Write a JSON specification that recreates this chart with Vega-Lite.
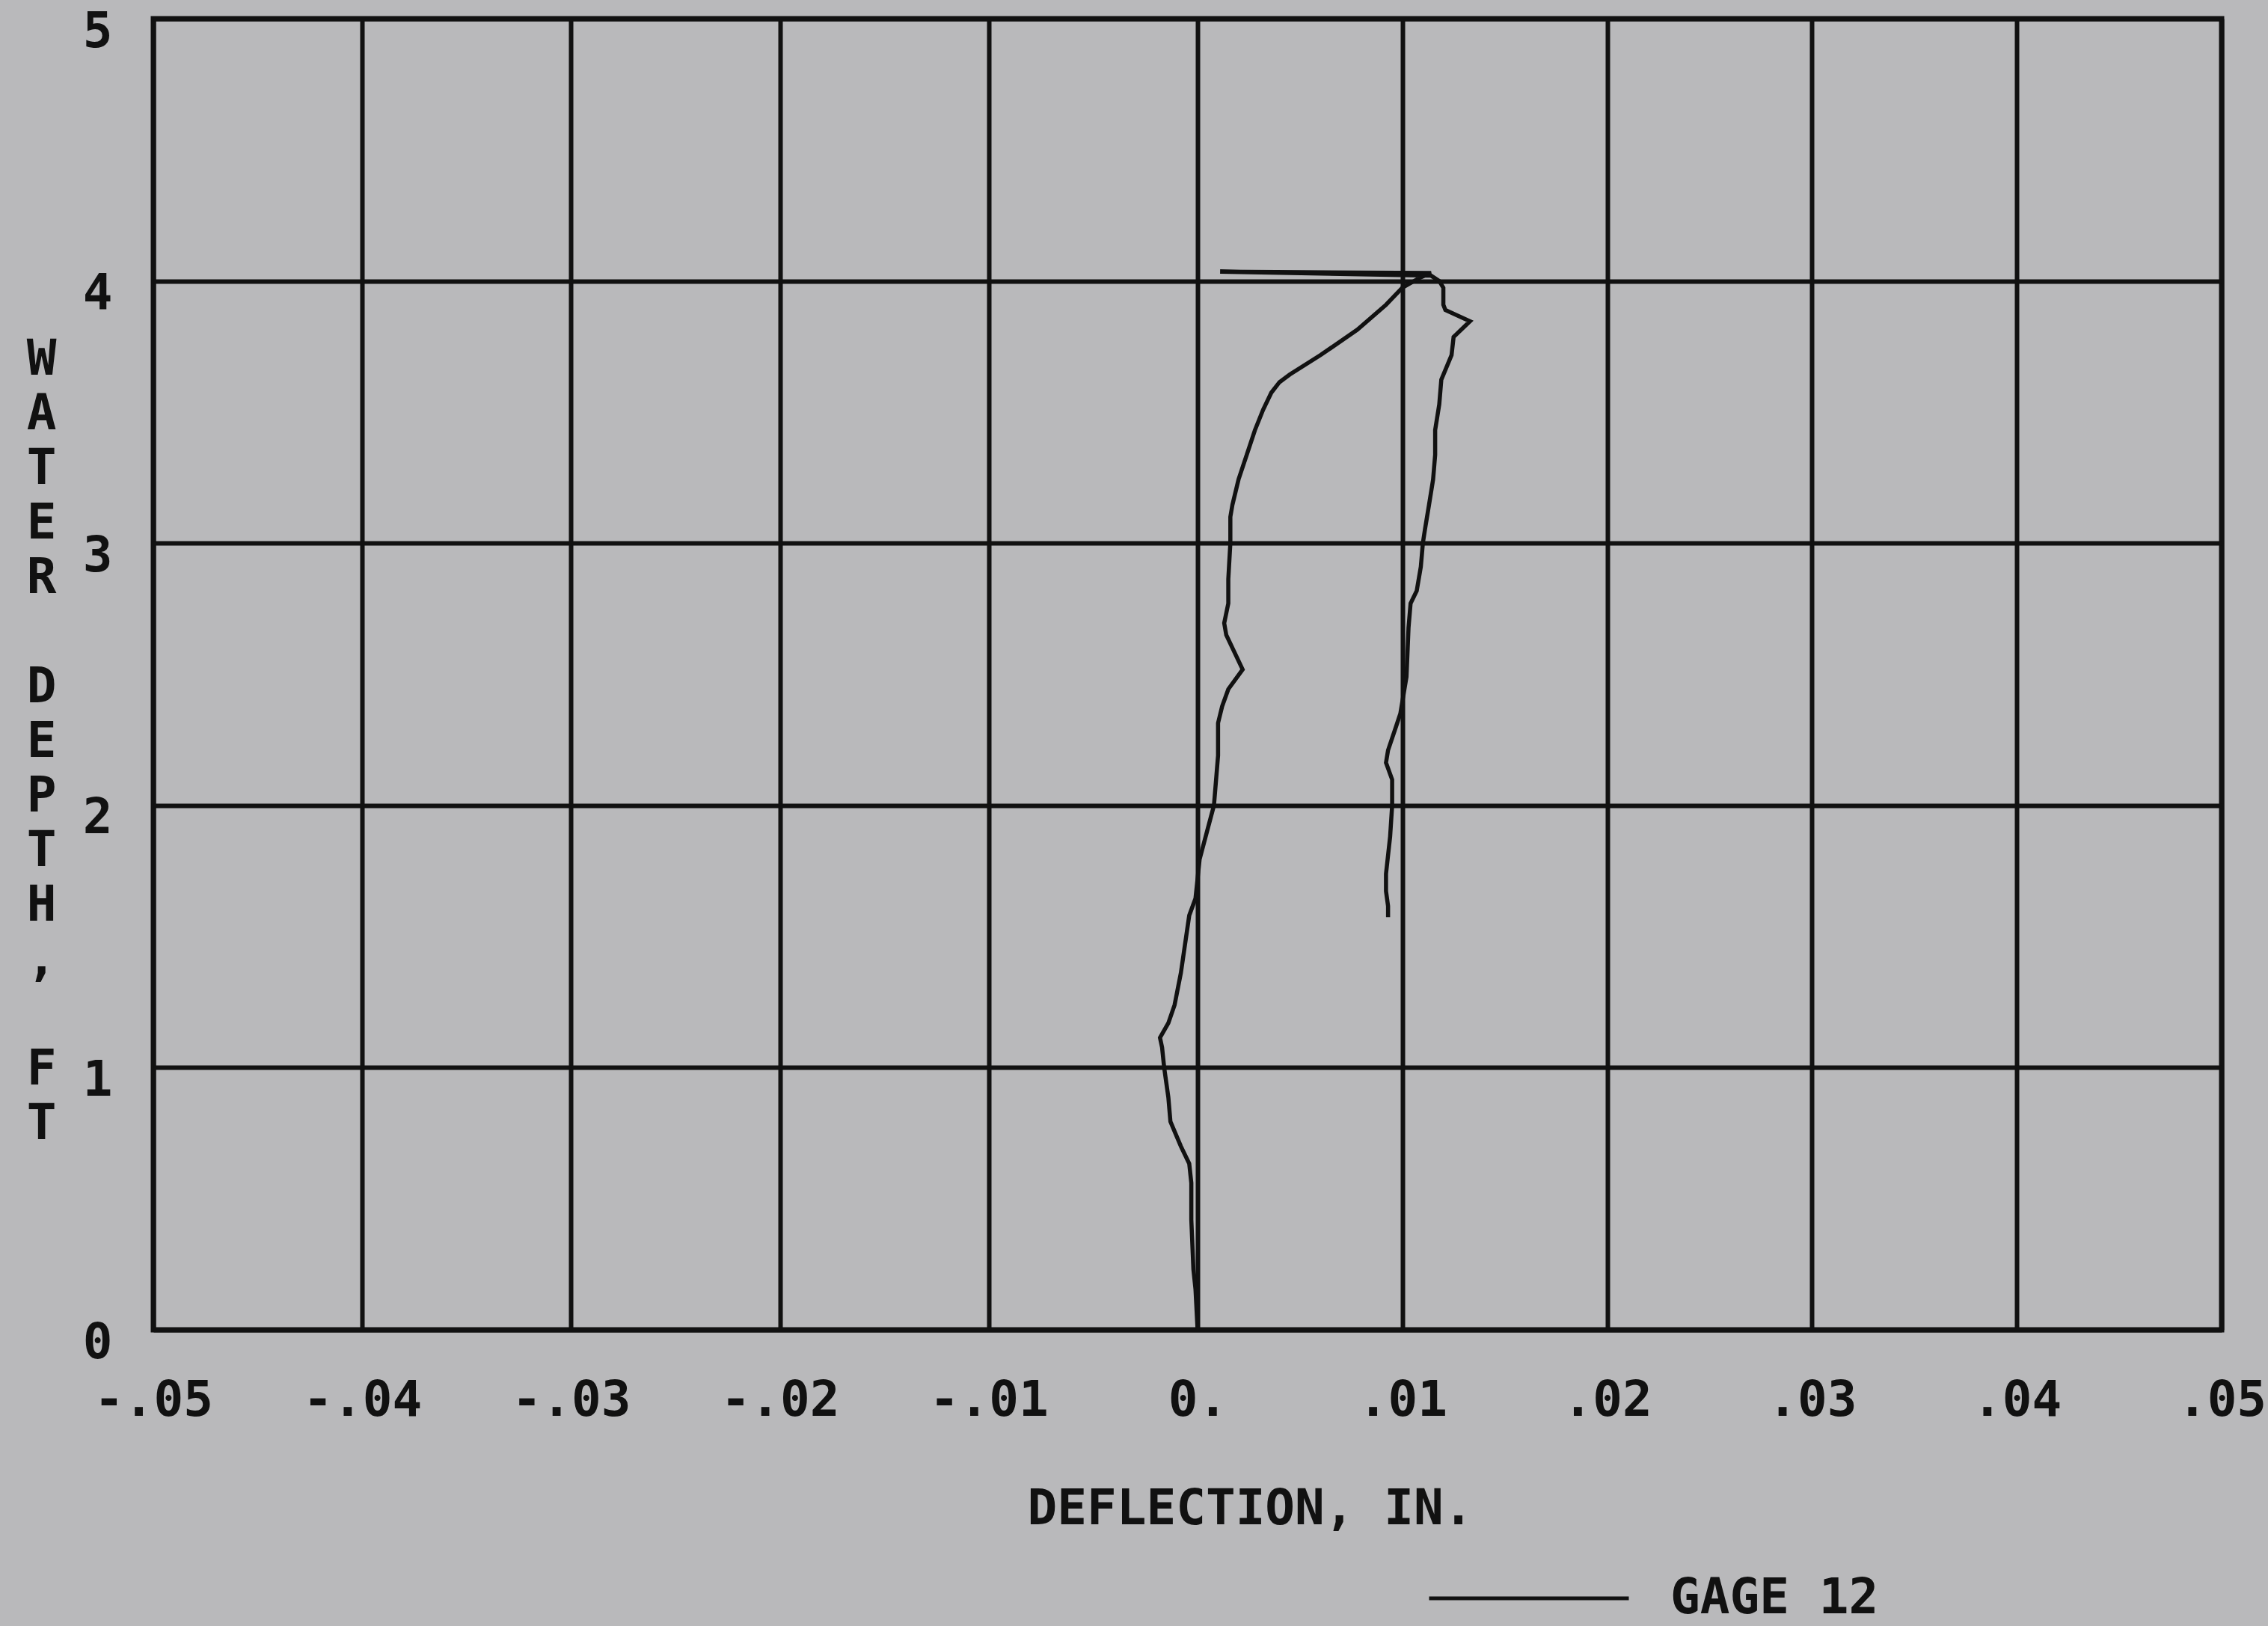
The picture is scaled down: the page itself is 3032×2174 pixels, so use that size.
{
  "$schema": "https://vega.github.io/schema/vega-lite/v6.json",
  "width": 2765,
  "height": 1753,
  "autosize": {"type": "none"},
  "padding": {"left": 205, "top": 25, "right": 62, "bottom": 396},
  "background": "#b9b9bb",
  "config": {
    "view": {"stroke": "#111111", "strokeWidth": 7, "fill": null},
    "font": "DejaVu Sans Mono",
    "axis": {
      "domain": false,
      "ticks": false,
      "grid": true,
      "gridColor": "#111111",
      "gridWidth": 6,
      "gridOpacity": 1,
      "labelFont": "DejaVu Sans Mono",
      "labelFontSize": 66,
      "labelFontWeight": "bold",
      "labelColor": "#111111",
      "labelOverlap": false,
      "labelFlush": false,
      "titleFont": "DejaVu Sans Mono",
      "titleFontSize": 66,
      "titleFontWeight": "bold",
      "titleColor": "#111111"
    }
  },
  "data": {
    "values": [
      {"i": 1, "x": 0.0000, "y": 0.0},
      {"i": 2, "x": -0.0001, "y": 0.155},
      {"i": 3, "x": -0.0002, "y": 0.231},
      {"i": 4, "x": -0.0003, "y": 0.42},
      {"i": 5, "x": -0.0003, "y": 0.56},
      {"i": 6, "x": -0.0004, "y": 0.634},
      {"i": 7, "x": -0.0008, "y": 0.70},
      {"i": 8, "x": -0.0013, "y": 0.794},
      {"i": 9, "x": -0.0014, "y": 0.887},
      {"i": 10, "x": -0.0016, "y": 1.0},
      {"i": 11, "x": -0.0017, "y": 1.077},
      {"i": 12, "x": -0.0018, "y": 1.114},
      {"i": 13, "x": -0.0014, "y": 1.17},
      {"i": 14, "x": -0.0011, "y": 1.239},
      {"i": 15, "x": -0.0008, "y": 1.361},
      {"i": 16, "x": -0.0004, "y": 1.58},
      {"i": 17, "x": -0.0001, "y": 1.645},
      {"i": 18, "x": 0.0001, "y": 1.795},
      {"i": 19, "x": 0.0008, "y": 2.0},
      {"i": 20, "x": 0.0010, "y": 2.19},
      {"i": 21, "x": 0.0010, "y": 2.258},
      {"i": 22, "x": 0.0010, "y": 2.314},
      {"i": 23, "x": 0.0012, "y": 2.378},
      {"i": 24, "x": 0.0015, "y": 2.443},
      {"i": 25, "x": 0.0022, "y": 2.518},
      {"i": 26, "x": 0.0014, "y": 2.65},
      {"i": 27, "x": 0.0013, "y": 2.695},
      {"i": 28, "x": 0.0015, "y": 2.77},
      {"i": 29, "x": 0.0015, "y": 2.863},
      {"i": 30, "x": 0.0016, "y": 3.0},
      {"i": 31, "x": 0.0016, "y": 3.1},
      {"i": 32, "x": 0.0017, "y": 3.146},
      {"i": 33, "x": 0.0020, "y": 3.243},
      {"i": 34, "x": 0.0024, "y": 3.337},
      {"i": 35, "x": 0.0028, "y": 3.431},
      {"i": 36, "x": 0.0032, "y": 3.509},
      {"i": 37, "x": 0.0036, "y": 3.574},
      {"i": 38, "x": 0.0040, "y": 3.614},
      {"i": 39, "x": 0.0045, "y": 3.643},
      {"i": 40, "x": 0.0060, "y": 3.717},
      {"i": 41, "x": 0.0078, "y": 3.814},
      {"i": 42, "x": 0.0092, "y": 3.909},
      {"i": 43, "x": 0.0100, "y": 3.974},
      {"i": 44, "x": 0.0108, "y": 4.01},
      {"i": 45, "x": 0.0114, "y": 4.03},
      {"i": 46, "x": 0.0011, "y": 4.035},
      {"i": 47, "x": 0.0114, "y": 4.02},
      {"i": 48, "x": 0.0118, "y": 4.0},
      {"i": 49, "x": 0.0120, "y": 3.974},
      {"i": 50, "x": 0.0120, "y": 3.909},
      {"i": 51, "x": 0.0121, "y": 3.889},
      {"i": 52, "x": 0.0133, "y": 3.846},
      {"i": 53, "x": 0.0125, "y": 3.786},
      {"i": 54, "x": 0.0124, "y": 3.717},
      {"i": 55, "x": 0.0119, "y": 3.623},
      {"i": 56, "x": 0.0118, "y": 3.529},
      {"i": 57, "x": 0.0116, "y": 3.431},
      {"i": 58, "x": 0.0116, "y": 3.337},
      {"i": 59, "x": 0.0115, "y": 3.243},
      {"i": 60, "x": 0.0113, "y": 3.146},
      {"i": 61, "x": 0.0111, "y": 3.051},
      {"i": 62, "x": 0.0110, "y": 3.0},
      {"i": 63, "x": 0.0109, "y": 2.91},
      {"i": 64, "x": 0.0107, "y": 2.818},
      {"i": 65, "x": 0.0104, "y": 2.77},
      {"i": 66, "x": 0.0103, "y": 2.678},
      {"i": 67, "x": 0.0102, "y": 2.49},
      {"i": 68, "x": 0.0099, "y": 2.35},
      {"i": 69, "x": 0.0097, "y": 2.303},
      {"i": 70, "x": 0.0093, "y": 2.21},
      {"i": 71, "x": 0.0092, "y": 2.163},
      {"i": 72, "x": 0.0095, "y": 2.098},
      {"i": 73, "x": 0.0095, "y": 2.0},
      {"i": 74, "x": 0.0094, "y": 1.88},
      {"i": 75, "x": 0.0092, "y": 1.739},
      {"i": 76, "x": 0.0092, "y": 1.673},
      {"i": 77, "x": 0.0093, "y": 1.616},
      {"i": 78, "x": 0.0093, "y": 1.574}
    ]
  },
  "mark": {"type": "line", "strokeWidth": 5.5, "interpolate": "linear", "clip": true},
  "encoding": {
    "x": {
      "field": "x",
      "type": "quantitative",
      "scale": {"domain": [-0.05, 0, 0.05], "range": [0, 1396, 2765], "nice": false, "zero": false},
      "axis": {
        "values": [-0.05, -0.04, -0.03, -0.02, -0.01, 0, 0.01, 0.02, 0.03, 0.04, 0.05],
        "labelExpr": "datum.value == 0 ? '0.' : (datum.value < 0 ? '-' : '') + '.0' + round(abs(datum.value) * 100)",
        "labelPadding": 94,
        "labelBaseline": "middle",
        "labelAlign": "center",
        "title": "DEFLECTION, IN.",
        "titleX": 1466,
        "titleY": 239,
        "titleAlign": "center",
        "titleBaseline": "middle"
      }
    },
    "y": {
      "field": "y",
      "type": "quantitative",
      "scale": {"domain": [0, 5], "nice": false, "zero": false},
      "axis": {
        "values": [0, 1, 2, 3, 4, 5],
        "labelPadding": 55,
        "labelOffset": 17,
        "labelAlign": "right",
        "labelBaseline": "middle",
        "title": ["W", "A", "T", "E", "R", "\u2800", "D", "E", "P", "T", "H", ",", "\u2800", "F", "T"],
        "titleAngle": 0,
        "titleX": -150,
        "titleY": 455,
        "titleAlign": "center",
        "titleBaseline": "middle",
        "titleLineHeight": 73
      }
    },
    "color": {
      "datum": "GAGE 12",
      "type": "nominal",
      "scale": {"range": ["#111111"]},
      "legend": {
        "title": null,
        "orient": "none",
        "legendX": 1703,
        "legendY": 1976,
        "padding": 0,
        "symbolType": "stroke",
        "symbolSize": 71289,
        "symbolStrokeWidth": 5,
        "labelFont": "DejaVu Sans Mono",
        "labelFontSize": 66,
        "labelFontWeight": "bold",
        "labelColor": "#111111",
        "labelOffset": 53,
        "labelLimit": 0
      }
    },
    "order": {"field": "i", "type": "quantitative"}
  }
}
